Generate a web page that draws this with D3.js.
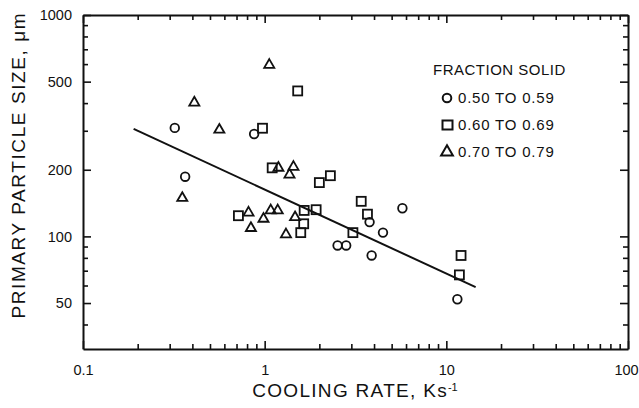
<!DOCTYPE html>
<html>
<head>
<meta charset="utf-8">
<script src="https://cdn.jsdelivr.net/npm/d3@7"></script>
<style>
  body { margin: 0; background: #fff; }
  svg { font-family: "Liberation Sans", Arial, Helvetica, sans-serif; }
  .axis path, .axis line { stroke: #111; }
  .axis text { fill: #111; font-size: 14.5px; }
</style>
</head>
<body>
<svg id="chart" width="639" height="408"></svg>
<script>
const width = 639;
const height = 408;

// cooling rate (K/s) and primary particle size (um)
const circleRate = [0.32, 0.365, 0.875, 2.52, 2.81, 3.78, 3.88, 4.48, 5.73, 11.5];
const circleSize = [309, 186, 290, 91, 91, 116, 82, 104, 134, 52];

const squareRate = [1.10, 1.52, 0.973, 2.0, 2.30, 3.40, 3.68, 3.06, 1.65, 1.92, 1.64, 1.58, 0.717, 12.05, 11.8];
const squareSize = [204, 454, 308, 175, 188, 144, 126, 104, 131, 132, 114, 104, 124, 82, 67];

const triangleRate = [0.41, 0.563, 1.06, 0.352, 1.19, 1.44, 1.37, 0.815, 0.84, 0.985, 1.08, 1.18, 1.47, 1.31];
const triangleSize = [402, 303, 595, 149, 204, 206, 190, 128, 109, 120, 131, 131, 122, 102];

// fitted line end points
const fitRate = [0.19, 14.5];
const fitSize = [306, 59];

const legendLabels = ["0.50 TO 0.59", "0.60 TO 0.69", "0.70 TO 0.79"];

const xMajor = [0.1, 1, 10, 100];
const xMinor = [0.2, 0.3, 0.4, 0.5, 0.6, 0.7, 0.8, 0.9, 2, 3, 4, 5, 6, 7, 8, 9, 20, 30, 40, 50, 60, 70, 80, 90];
const yMajor = [50, 100, 200, 500, 1000];
const yMinor = [40, 60, 70, 80, 90, 300, 400, 600, 700, 800, 900];

const margin = { top: 15, right: 11, bottom: 59, left: 83 };

const svg = d3.select("svg#chart");

let x = d3.scaleLog()
  .domain([0.1, 100])
  .range([margin.left, width - margin.right]);

let y = d3.scaleLog()
  .domain([31, 1000])
  .range([height - margin.bottom, margin.top]);

/* AXES */

function fmt(d) { return String(d); }

// bottom
svg.append("g").attr("class", "axis")
  .attr("transform", translate(0, y.range()[0]))
  .call(d3.axisBottom(x).tickValues(xMajor).tickFormat(fmt).tickSize(-8).tickPadding(16).tickSizeOuter(0))
  .call(g => g.select(".domain").attr("stroke-width", 2))
  .call(g => g.selectAll(".tick text").filter(d => d === 100).attr("dx", -2));
svg.append("g").attr("class", "axis")
  .attr("transform", translate(0, y.range()[0]))
  .call(d3.axisBottom(x).tickValues(xMinor).tickFormat("").tickSize(-5).tickSizeOuter(0))
  .call(g => g.select(".domain").remove());

// top
svg.append("g").attr("class", "axis")
  .attr("transform", translate(0, y.range()[1]))
  .call(d3.axisTop(x).tickValues(xMajor).tickFormat("").tickSize(-8).tickSizeOuter(0))
  .call(g => g.select(".domain").attr("stroke-width", 2));
svg.append("g").attr("class", "axis")
  .attr("transform", translate(0, y.range()[1]))
  .call(d3.axisTop(x).tickValues(xMinor).tickFormat("").tickSize(-5).tickSizeOuter(0))
  .call(g => g.select(".domain").remove());

// left
svg.append("g").attr("class", "axis")
  .attr("transform", translate(x.range()[0], 0))
  .call(d3.axisLeft(y).tickValues(yMajor).tickFormat(fmt).tickSize(-8).tickPadding(11).tickSizeOuter(0))
  .call(g => g.select(".domain").attr("stroke-width", 2));
svg.append("g").attr("class", "axis")
  .attr("transform", translate(x.range()[0], 0))
  .call(d3.axisLeft(y).tickValues(yMinor).tickFormat("").tickSize(-5).tickSizeOuter(0))
  .call(g => g.select(".domain").remove());

// right
svg.append("g").attr("class", "axis")
  .attr("transform", translate(x.range()[1], 0))
  .call(d3.axisRight(y).tickValues(yMajor).tickFormat("").tickSize(-8).tickSizeOuter(0))
  .call(g => g.select(".domain").attr("stroke-width", 2));
svg.append("g").attr("class", "axis")
  .attr("transform", translate(x.range()[1], 0))
  .call(d3.axisRight(y).tickValues(yMinor).tickFormat("").tickSize(-5).tickSizeOuter(0))
  .call(g => g.select(".domain").remove());

svg.selectAll(".axis line").attr("stroke-width", 1.6);

/* AXIS TITLES */

const xTitle = svg.append("text")
  .attr("x", 355)
  .attr("y", 397)
  .attr("text-anchor", "middle")
  .style("font-size", "19px")
  .style("letter-spacing", "1.3px")
  .attr("fill", "#111");
xTitle.append("tspan").text("COOLING RATE,  Ks");
xTitle.append("tspan").attr("dy", -6).style("font-size", "11px").style("letter-spacing", "0px").text("-1");

svg.append("text")
  .attr("transform", translate(25, 166) + " rotate(-90)")
  .attr("text-anchor", "middle")
  .style("font-size", "19px")
  .attr("textLength", 305)
  .attr("lengthAdjust", "spacing")
  .attr("fill", "#111")
  .text("PRIMARY PARTICLE SIZE, \u03bcm");

/* FIT LINE */

const line = d3.line()
  .x(d => x(d[0]))
  .y(d => y(d[1]));

svg.append("path")
  .datum(d3.zip(fitRate, fitSize))
  .attr("d", line)
  .attr("fill", "none")
  .attr("stroke", "#111")
  .attr("stroke-width", 2);

/* POINTS */

const triPath = d3.symbol().type(d3.symbolTriangle).size(44)();

const pts = svg.append("g").attr("id", "points")
  .attr("fill", "none")
  .attr("stroke", "#111")
  .attr("stroke-width", 1.8);

pts.selectAll("circle.c")
  .data(d3.zip(circleRate, circleSize))
  .join("circle")
  .attr("class", "c")
  .attr("cx", d => x(d[0]))
  .attr("cy", d => y(d[1]))
  .attr("r", 4.3);

pts.selectAll("rect.s")
  .data(d3.zip(squareRate, squareSize))
  .join("rect")
  .attr("class", "s")
  .attr("x", d => x(d[0]) - 4.5)
  .attr("y", d => y(d[1]) - 4.5)
  .attr("width", 9)
  .attr("height", 9);

pts.selectAll("path.t")
  .data(d3.zip(triangleRate, triangleSize))
  .join("path")
  .attr("class", "t")
  .attr("d", triPath)
  .attr("transform", d => translate(x(d[0]), y(d[1])));

/* LEGEND */

const legend = svg.append("g").attr("id", "legend").attr("fill", "#111");

legend.append("text")
  .attr("x", 433)
  .attr("y", 75)
  .style("font-size", "15px")
  .style("letter-spacing", "0.5px")
  .text("FRACTION SOLID");

const rowY = [98, 125, 152];

legend.selectAll("text.row")
  .data(legendLabels)
  .join("text")
  .attr("class", "row")
  .attr("x", 458)
  .attr("y", (d, i) => rowY[i] + 5)
  .style("font-size", "15px")
  .style("letter-spacing", "0.8px")
  .text(d => d);

const lg = legend.append("g").attr("fill", "none").attr("stroke", "#111").attr("stroke-width", 2);
lg.append("circle").attr("cx", 447).attr("cy", rowY[0]).attr("r", 4.3);
lg.append("rect").attr("x", 442.5).attr("y", rowY[1] - 4.5).attr("width", 10).attr("height", 9);
lg.append("path")
  .attr("d", d3.symbol().type(d3.symbolTriangle).size(60)())
  .attr("transform", translate(447, rowY[2]));

function translate(x, y) {
  return "translate(" + String(x) + "," + String(y) + ")";
}
</script>
</body>
</html>
